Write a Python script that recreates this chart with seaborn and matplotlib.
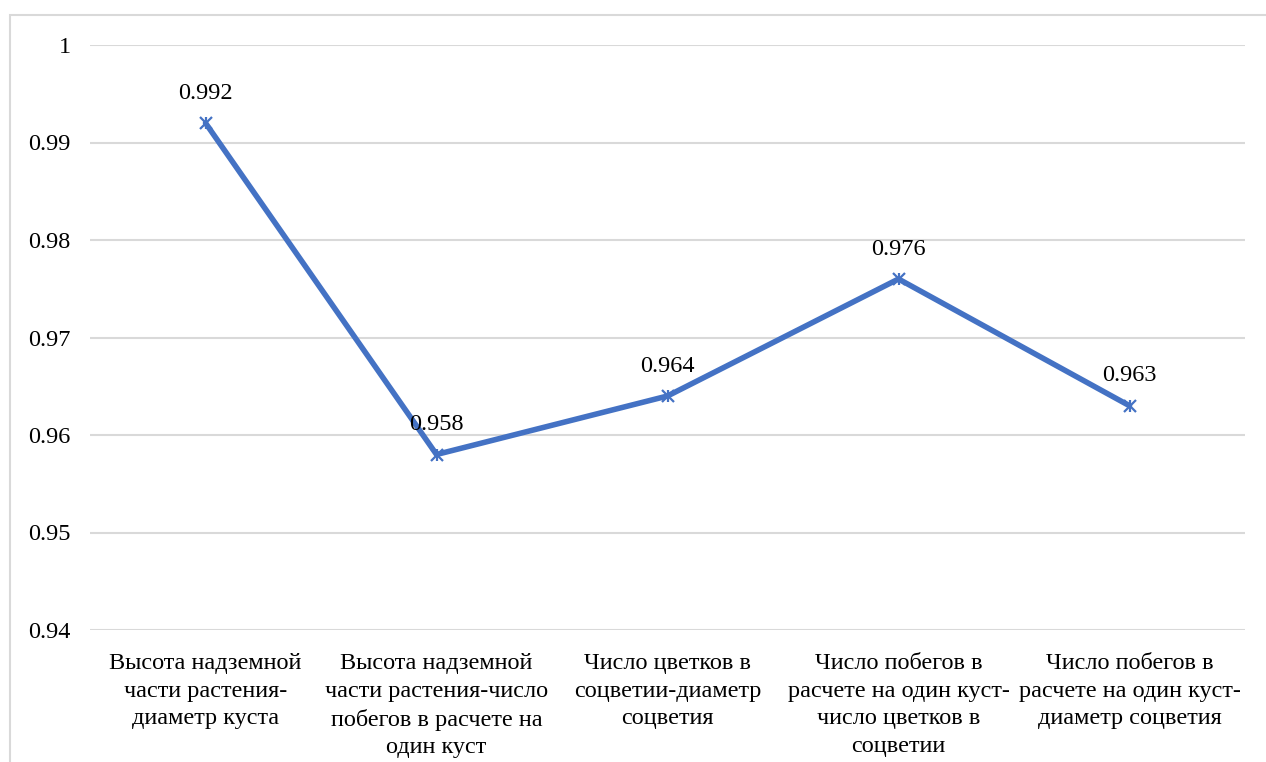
import matplotlib
matplotlib.use("Agg")
import matplotlib.pyplot as plt
import seaborn as sns
import pandas as pd
from matplotlib.patches import Rectangle

categories = [
    "Высота надземной\nчасти растения-\nдиаметр куста",
    "Высота надземной\nчасти растения-число\nпобегов в расчете на\nодин куст",
    "Число цветков в\nсоцветии-диаметр\nсоцветия",
    "Число побегов в\nрасчете на один куст-\nчисло цветков в\nсоцветии",
    "Число побегов в\nрасчете на один куст-\nдиаметр соцветия",
]
values = [0.992, 0.958, 0.964, 0.976, 0.963]
y_ticks = [0.94, 0.95, 0.96, 0.97, 0.98, 0.99, 1.0]
y_tick_labels = ["0.94", "0.95", "0.96", "0.97", "0.98", "0.99", "1"]

sns.set_theme(style="white")
plt.rcParams["font.family"] = ["Liberation Serif", "DejaVu Serif"]

line_color = "#4472C4"
grid_color = "#D9D9D9"
font_size = 17.5

df = pd.DataFrame({"pos": range(len(categories)), "value": values})

fig = plt.figure(figsize=(12.66, 7.62), dpi=100)
ax = fig.add_axes([90 / 1266, 1 - 630 / 762, 1155 / 1266, 585 / 762])

# outer chart-area frame
fig.patches.append(Rectangle((10 / 1266, -0.05), 1.2, 1 - 15 / 762 + 0.05,
                             transform=fig.transFigure, fill=False,
                             edgecolor=grid_color, linewidth=1.5))

for t in y_ticks:
    ax.axhline(t, color=grid_color, linewidth=1.5, zorder=0)

sns.lineplot(data=df, x="pos", y="value", ax=ax, color=line_color,
             linewidth=4.0, marker="x", markersize=9, markeredgewidth=1.6,
             markeredgecolor=line_color, zorder=3)
ax.scatter(df["pos"], df["value"], marker="|", s=80, color=line_color,
           linewidths=1.6, zorder=4)

for x, v in zip(df["pos"], df["value"]):
    ax.annotate(f"{v:.3f}", (x, v), xytext=(0, 14), textcoords="offset points",
                ha="center", va="bottom", fontsize=font_size, color="#000000")

ax.set_xlim(-0.5, len(categories) - 0.5)
ax.set_ylim(0.94, 1.0)
ax.set_yticks(y_ticks)
ax.set_yticklabels(y_tick_labels, fontsize=font_size, color="#000000")
ax.set_xticks(range(len(categories)))
ax.set_xticklabels(categories, fontsize=font_size, color="#000000",
                   linespacing=1.42, va="top")
ax.tick_params(axis="both", length=0)
ax.tick_params(axis="y", pad=14)
ax.tick_params(axis="x", pad=16.5)
ax.set_xlabel("")
ax.set_ylabel("")
for s in ax.spines.values():
    s.set_visible(False)

fig.savefig("out.png", dpi=100, facecolor="white")
